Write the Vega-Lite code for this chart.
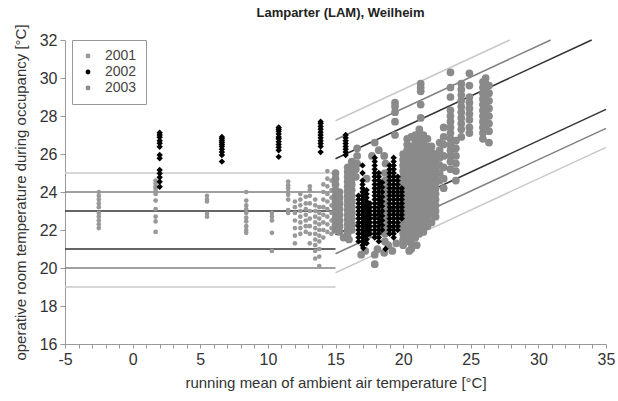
{
"$schema":"https://vega.github.io/schema/vega-lite/v6.json",
"width":541,"height":304,
"autosize":{"type":"none"},
"padding":{"left":65,"top":40,"right":12,"bottom":57},
"title":{"text":"Lamparter (LAM), Weilheim","fontSize":13,"fontWeight":"bold","color":"#222","offset":4,"dx":5},
"config":{"font":"Liberation Sans","view":{"stroke":null},
"axis":{"grid":false,"domainColor":"#999","tickColor":"#999","labelColor":"#333","titleColor":"#333","labelFontSize":16,"titleFontSize":15,"titleFontWeight":"normal","labelFlush":false,"labelOverlap":false},
"legend":{"orient":"none","legendX":7,"legendY":0,"strokeColor":"#999","fillColor":"white","padding":9,"labelFontSize":14,"labelColor":"#444","rowPadding":2,"labelOffset":10,"symbolSize":24}},
"encoding":{
"x":{"field":"x","type":"quantitative","scale":{"domain":[-5,35],"nice":false,"zero":false},
"axis":{"title":"running mean of ambient air temperature [°C]","values":[-5,-4,-3,-2,-1,0,1,2,3,4,5,6,7,8,9,10,11,12,13,14,15,16,17,18,19,20,21,22,23,24,25,26,27,28,29,30,31,32,33,34,35],"labelExpr":"datum.value % 5 === 0 ? '' + datum.value : ''","tickSize":4,"labelPadding":3,"titlePadding":8}},
"y":{"field":"y","type":"quantitative","scale":{"domain":[16,32],"nice":false,"zero":false},
"axis":{"title":"operative room temperature during occupancy [°C]","values":[16,18,20,22,24,26,28,30,32],"tickSize":5,"labelPadding":3,"titlePadding":11}}
},
"layer":[
{"data":{"values":[
{"seg":"Iu_h","band":"I","x":-5,"y":23},{"seg":"Iu_h","band":"I","x":15,"y":23},
{"seg":"Iu_s","band":"I","x":15,"y":25.75},{"seg":"Iu_s","band":"I","x":33.94,"y":32},
{"seg":"IIu_h","band":"II","x":-5,"y":24},{"seg":"IIu_h","band":"II","x":15,"y":24},
{"seg":"IIu_s","band":"II","x":15,"y":26.75},{"seg":"IIu_s","band":"II","x":30.91,"y":32},
{"seg":"IIIu_h","band":"III","x":-5,"y":25},{"seg":"IIIu_h","band":"III","x":15,"y":25},
{"seg":"IIIu_s","band":"III","x":15,"y":27.75},{"seg":"IIIu_s","band":"III","x":27.88,"y":32},
{"seg":"Il_h","band":"I","x":-5,"y":21},{"seg":"Il_h","band":"I","x":15,"y":21},
{"seg":"Il_s","band":"I","x":15,"y":21.75},{"seg":"Il_s","band":"I","x":35,"y":28.35},
{"seg":"IIl_h","band":"II","x":-5,"y":20},{"seg":"IIl_h","band":"II","x":15,"y":20},
{"seg":"IIl_s","band":"II","x":15,"y":20.75},{"seg":"IIl_s","band":"II","x":35,"y":27.35},
{"seg":"IIIl_h","band":"III","x":-5,"y":19},{"seg":"IIIl_h","band":"III","x":15,"y":19},
{"seg":"IIIl_s","band":"III","x":15,"y":19.75},{"seg":"IIIl_s","band":"III","x":35,"y":26.35}
]},
"mark":{"type":"line","strokeWidth":1.5},
"encoding":{"detail":{"field":"seg"},"color":{"field":"band","type":"nominal","scale":{"domain":["I","II","III"],"range":["#333333","#808080","#c8c8c8"]},"legend":null}}},
{"data":{"values":[
{"g":"2001","x":-2.5,"y":24.0},{"g":"2001","x":-2.5,"y":23.8},{"g":"2001","x":-2.5,"y":23.6},{"g":"2001","x":-2.5,"y":23.4},{"g":"2001","x":-2.5,"y":23.2},{"g":"2001","x":-2.5,"y":22.9},{"g":"2001","x":-2.5,"y":22.7},{"g":"2001","x":-2.5,"y":22.5},{"g":"2001","x":-2.5,"y":22.3},{"g":"2001","x":-2.5,"y":22.1},
{"g":"2001","x":1.7,"y":24.6},{"g":"2001","x":1.7,"y":24.45},{"g":"2001","x":1.7,"y":24.3},{"g":"2001","x":1.7,"y":24.2},{"g":"2001","x":1.7,"y":24.05},{"g":"2001","x":1.7,"y":23.9},{"g":"2001","x":1.7,"y":23.55},{"g":"2001","x":1.7,"y":23.1},{"g":"2001","x":1.7,"y":22.7},{"g":"2001","x":1.7,"y":22.45},{"g":"2001","x":1.7,"y":21.9},
{"g":"2001","x":5.5,"y":23.8},{"g":"2001","x":5.5,"y":23.6},{"g":"2001","x":5.5,"y":23.5},{"g":"2001","x":5.5,"y":22.85},{"g":"2001","x":5.5,"y":22.7},
{"g":"2001","x":8.4,"y":24.0},{"g":"2001","x":8.4,"y":23.55},{"g":"2001","x":8.4,"y":23.3},{"g":"2001","x":8.4,"y":23.1},{"g":"2001","x":8.4,"y":22.9},{"g":"2001","x":8.4,"y":22.65},{"g":"2001","x":8.4,"y":22.45},{"g":"2001","x":8.4,"y":22.2},{"g":"2001","x":8.4,"y":22.0},{"g":"2001","x":8.4,"y":21.85},
{"g":"2001","x":10.3,"y":22.9},{"g":"2001","x":10.3,"y":22.7},{"g":"2001","x":10.3,"y":22.5},{"g":"2001","x":10.3,"y":21.85},{"g":"2001","x":10.3,"y":20.9},
{"g":"2001","x":11.5,"y":24.55},{"g":"2001","x":11.5,"y":24.35},{"g":"2001","x":11.5,"y":24.2},{"g":"2001","x":11.5,"y":24.0},{"g":"2001","x":11.5,"y":23.85},{"g":"2001","x":11.5,"y":23.6},{"g":"2001","x":11.5,"y":23.05},{"g":"2001","x":11.5,"y":22.9},
{"g":"2001","x":12.0,"y":21.3},{"g":"2001","x":12.0,"y":21.7},{"g":"2001","x":12.0,"y":22.1},{"g":"2001","x":12.0,"y":22.5},{"g":"2001","x":12.0,"y":22.9},{"g":"2001","x":12.0,"y":23.2},{"g":"2001","x":12.0,"y":23.5},
{"g":"2001","x":12.4,"y":21.8},{"g":"2001","x":12.4,"y":22.1},{"g":"2001","x":12.4,"y":22.4},{"g":"2001","x":12.4,"y":22.7},{"g":"2001","x":12.4,"y":23.0},{"g":"2001","x":12.4,"y":23.3},{"g":"2001","x":12.4,"y":23.6},{"g":"2001","x":12.4,"y":23.9},
{"g":"2001","x":12.8,"y":21.9},{"g":"2001","x":12.8,"y":22.2},{"g":"2001","x":12.8,"y":22.5},{"g":"2001","x":12.8,"y":22.8},{"g":"2001","x":12.8,"y":23.1},{"g":"2001","x":12.8,"y":23.4},{"g":"2001","x":12.8,"y":23.75},
{"g":"2001","x":13.1,"y":21.3},{"g":"2001","x":13.1,"y":21.8},{"g":"2001","x":13.1,"y":22.2},{"g":"2001","x":13.1,"y":22.6},{"g":"2001","x":13.1,"y":23.0},{"g":"2001","x":13.1,"y":23.4},{"g":"2001","x":13.1,"y":23.8},{"g":"2001","x":13.1,"y":24.1},{"g":"2001","x":13.1,"y":24.3},
{"g":"2001","x":13.5,"y":20.5},{"g":"2001","x":13.5,"y":20.9},{"g":"2001","x":13.5,"y":21.2},{"g":"2001","x":13.5,"y":21.5},{"g":"2001","x":13.5,"y":21.8},{"g":"2001","x":13.5,"y":22.1},{"g":"2001","x":13.5,"y":22.4},{"g":"2001","x":13.5,"y":22.7},{"g":"2001","x":13.5,"y":23.0},{"g":"2001","x":13.5,"y":23.3},{"g":"2001","x":13.5,"y":23.6},
{"g":"2001","x":13.8,"y":20.1},{"g":"2001","x":13.8,"y":20.6},{"g":"2001","x":13.8,"y":21.0},{"g":"2001","x":13.8,"y":21.4},{"g":"2001","x":13.8,"y":21.7},{"g":"2001","x":13.8,"y":22.0},{"g":"2001","x":13.8,"y":22.3},{"g":"2001","x":13.8,"y":22.6},{"g":"2001","x":13.8,"y":22.9},{"g":"2001","x":13.8,"y":23.2},
{"g":"2001","x":14.1,"y":21.6},{"g":"2001","x":14.1,"y":22.0},{"g":"2001","x":14.1,"y":22.4},{"g":"2001","x":14.1,"y":22.8},{"g":"2001","x":14.1,"y":23.2},{"g":"2001","x":14.1,"y":23.6},{"g":"2001","x":14.1,"y":24.0},{"g":"2001","x":14.1,"y":24.4},
{"g":"2001","x":14.4,"y":21.9},{"g":"2001","x":14.4,"y":22.3},{"g":"2001","x":14.4,"y":22.7},{"g":"2001","x":14.4,"y":23.1},{"g":"2001","x":14.4,"y":23.5},{"g":"2001","x":14.4,"y":23.9},{"g":"2001","x":14.4,"y":24.3},{"g":"2001","x":14.4,"y":24.7},{"g":"2001","x":14.4,"y":25.1},
{"g":"2001","x":14.7,"y":21.8},{"g":"2001","x":14.7,"y":22.1},{"g":"2001","x":14.7,"y":22.5},{"g":"2001","x":14.7,"y":22.9},{"g":"2001","x":14.7,"y":23.3},{"g":"2001","x":14.7,"y":23.7},{"g":"2001","x":14.7,"y":24.1},{"g":"2001","x":14.7,"y":24.6},
{"g":"2003","x":15.0,"y":22.0},{"g":"2003","x":15.0,"y":22.3},{"g":"2003","x":15.0,"y":22.6},{"g":"2003","x":15.0,"y":22.9},{"g":"2003","x":15.0,"y":23.2},{"g":"2003","x":15.0,"y":23.5},{"g":"2003","x":15.0,"y":23.8},{"g":"2003","x":15.0,"y":24.1},{"g":"2003","x":15.0,"y":24.4},{"g":"2003","x":15.0,"y":24.7},{"g":"2003","x":15.0,"y":25.0},
{"g":"2003","x":15.3,"y":21.9},{"g":"2003","x":15.3,"y":22.2},{"g":"2003","x":15.3,"y":22.5},{"g":"2003","x":15.3,"y":22.8},{"g":"2003","x":15.3,"y":23.1},{"g":"2003","x":15.3,"y":23.4},{"g":"2003","x":15.3,"y":23.7},{"g":"2003","x":15.3,"y":24.0},
{"g":"2003","x":15.9,"y":21.8},{"g":"2003","x":15.9,"y":22.05},{"g":"2003","x":15.9,"y":22.3},{"g":"2003","x":15.9,"y":22.55},{"g":"2003","x":15.9,"y":22.8},{"g":"2003","x":15.9,"y":23.05},{"g":"2003","x":15.9,"y":23.3},{"g":"2003","x":15.9,"y":23.55},{"g":"2003","x":15.9,"y":23.8},{"g":"2003","x":15.9,"y":24.05},{"g":"2003","x":15.9,"y":24.3},{"g":"2003","x":15.9,"y":24.55},{"g":"2003","x":15.9,"y":24.8},{"g":"2003","x":15.9,"y":25.05},{"g":"2003","x":15.9,"y":25.3},
{"g":"2003","x":16.2,"y":22.0},{"g":"2003","x":16.2,"y":22.3},{"g":"2003","x":16.2,"y":22.6},{"g":"2003","x":16.2,"y":22.9},{"g":"2003","x":16.2,"y":23.2},{"g":"2003","x":16.2,"y":23.5},{"g":"2003","x":16.2,"y":23.8},{"g":"2003","x":16.2,"y":24.1},{"g":"2003","x":16.2,"y":24.4},{"g":"2003","x":16.2,"y":24.7},{"g":"2003","x":16.2,"y":25.0},{"g":"2003","x":16.2,"y":25.3},{"g":"2003","x":16.2,"y":25.6},
{"g":"2003","x":16.5,"y":24.8},{"g":"2003","x":16.5,"y":25.2},{"g":"2003","x":17.3,"y":24.7},{"g":"2003","x":17.2,"y":20.9},{"g":"2003","x":16.9,"y":20.7},{"g":"2003","x":15.6,"y":21.6},{"g":"2003","x":16.0,"y":21.5},
{"g":"2003","x":16.6,"y":26.3},{"g":"2003","x":16.6,"y":25.9},{"g":"2003","x":16.6,"y":25.5},
{"g":"2003","x":17.9,"y":20.7},{"g":"2003","x":17.9,"y":20.2},{"g":"2003","x":18.1,"y":21.0},{"g":"2003","x":18.6,"y":20.8},{"g":"2003","x":18.9,"y":21.2},{"g":"2003","x":19.2,"y":20.9},{"g":"2003","x":19.5,"y":21.3},
{"g":"2003","x":17.9,"y":26.6},{"g":"2003","x":18.2,"y":26.2},{"g":"2003","x":18.6,"y":25.9},{"g":"2003","x":18.7,"y":25.5},{"g":"2003","x":17.7,"y":25.9},
{"g":"2003","x":18.65,"y":21.4},{"g":"2003","x":18.65,"y":21.8},{"g":"2003","x":18.65,"y":22.2},{"g":"2003","x":18.65,"y":22.6},{"g":"2003","x":18.65,"y":23.0},{"g":"2003","x":18.65,"y":23.4},{"g":"2003","x":18.65,"y":23.8},{"g":"2003","x":18.65,"y":24.2},{"g":"2003","x":18.65,"y":24.6},{"g":"2003","x":18.65,"y":25.0},
{"g":"2003","x":20.0,"y":21.2},{"g":"2003","x":20.0,"y":21.5},{"g":"2003","x":20.0,"y":21.8},{"g":"2003","x":20.0,"y":22.1},{"g":"2003","x":20.0,"y":22.4},{"g":"2003","x":20.0,"y":22.7},{"g":"2003","x":20.0,"y":23.0},{"g":"2003","x":20.0,"y":23.3},{"g":"2003","x":20.0,"y":23.6},{"g":"2003","x":20.0,"y":23.9},{"g":"2003","x":20.0,"y":24.2},{"g":"2003","x":20.0,"y":24.5},{"g":"2003","x":20.0,"y":24.8},{"g":"2003","x":20.0,"y":25.1},{"g":"2003","x":20.0,"y":25.4},{"g":"2003","x":20.0,"y":25.7},{"g":"2003","x":20.0,"y":26.0},
{"g":"2003","x":20.3,"y":21.4},{"g":"2003","x":20.3,"y":21.7},{"g":"2003","x":20.3,"y":22.0},{"g":"2003","x":20.3,"y":22.3},{"g":"2003","x":20.3,"y":22.6},{"g":"2003","x":20.3,"y":22.9},{"g":"2003","x":20.3,"y":23.2},{"g":"2003","x":20.3,"y":23.5},{"g":"2003","x":20.3,"y":23.8},{"g":"2003","x":20.3,"y":24.1},{"g":"2003","x":20.3,"y":24.4},{"g":"2003","x":20.3,"y":24.7},{"g":"2003","x":20.3,"y":25.0},{"g":"2003","x":20.3,"y":25.3},{"g":"2003","x":20.3,"y":25.6},{"g":"2003","x":20.3,"y":25.9},{"g":"2003","x":20.3,"y":26.2},{"g":"2003","x":20.3,"y":26.5},{"g":"2003","x":20.3,"y":26.8},
{"g":"2003","x":20.6,"y":21.0},{"g":"2003","x":20.6,"y":21.3},{"g":"2003","x":20.6,"y":21.6},{"g":"2003","x":20.6,"y":21.9},{"g":"2003","x":20.6,"y":22.2},{"g":"2003","x":20.6,"y":22.5},{"g":"2003","x":20.6,"y":22.8},{"g":"2003","x":20.6,"y":23.1},{"g":"2003","x":20.6,"y":23.4},{"g":"2003","x":20.6,"y":23.7},{"g":"2003","x":20.6,"y":24.0},{"g":"2003","x":20.6,"y":24.3},{"g":"2003","x":20.6,"y":24.6},{"g":"2003","x":20.6,"y":24.9},{"g":"2003","x":20.6,"y":25.2},{"g":"2003","x":20.6,"y":25.5},{"g":"2003","x":20.6,"y":25.8},{"g":"2003","x":20.6,"y":26.1},{"g":"2003","x":20.6,"y":26.4},{"g":"2003","x":20.6,"y":26.9},
{"g":"2003","x":20.9,"y":21.6},{"g":"2003","x":20.9,"y":21.9},{"g":"2003","x":20.9,"y":22.2},{"g":"2003","x":20.9,"y":22.5},{"g":"2003","x":20.9,"y":22.8},{"g":"2003","x":20.9,"y":23.1},{"g":"2003","x":20.9,"y":23.4},{"g":"2003","x":20.9,"y":23.7},{"g":"2003","x":20.9,"y":24.0},{"g":"2003","x":20.9,"y":24.3},{"g":"2003","x":20.9,"y":24.6},{"g":"2003","x":20.9,"y":24.9},{"g":"2003","x":20.9,"y":25.2},{"g":"2003","x":20.9,"y":25.5},{"g":"2003","x":20.9,"y":25.8},{"g":"2003","x":20.9,"y":26.1},{"g":"2003","x":20.9,"y":26.4},{"g":"2003","x":20.9,"y":26.7},{"g":"2003","x":20.9,"y":27.0},
{"g":"2003","x":21.2,"y":21.8},{"g":"2003","x":21.2,"y":22.1},{"g":"2003","x":21.2,"y":22.4},{"g":"2003","x":21.2,"y":22.7},{"g":"2003","x":21.2,"y":23.0},{"g":"2003","x":21.2,"y":23.3},{"g":"2003","x":21.2,"y":23.6},{"g":"2003","x":21.2,"y":23.9},{"g":"2003","x":21.2,"y":24.2},{"g":"2003","x":21.2,"y":24.5},{"g":"2003","x":21.2,"y":24.8},{"g":"2003","x":21.2,"y":25.1},{"g":"2003","x":21.2,"y":25.4},{"g":"2003","x":21.2,"y":25.7},{"g":"2003","x":21.2,"y":26.0},{"g":"2003","x":21.2,"y":26.3},{"g":"2003","x":21.2,"y":26.6},{"g":"2003","x":21.2,"y":26.9},{"g":"2003","x":21.2,"y":27.3},
{"g":"2003","x":21.5,"y":21.9},{"g":"2003","x":21.5,"y":22.2},{"g":"2003","x":21.5,"y":22.5},{"g":"2003","x":21.5,"y":22.8},{"g":"2003","x":21.5,"y":23.1},{"g":"2003","x":21.5,"y":23.4},{"g":"2003","x":21.5,"y":23.7},{"g":"2003","x":21.5,"y":24.0},{"g":"2003","x":21.5,"y":24.3},{"g":"2003","x":21.5,"y":24.6},{"g":"2003","x":21.5,"y":24.9},{"g":"2003","x":21.5,"y":25.2},{"g":"2003","x":21.5,"y":25.5},{"g":"2003","x":21.5,"y":25.8},{"g":"2003","x":21.5,"y":26.1},{"g":"2003","x":21.5,"y":26.4},{"g":"2003","x":21.5,"y":26.7},{"g":"2003","x":21.5,"y":27.0},
{"g":"2003","x":21.8,"y":22.2},{"g":"2003","x":21.8,"y":22.5},{"g":"2003","x":21.8,"y":22.8},{"g":"2003","x":21.8,"y":23.1},{"g":"2003","x":21.8,"y":23.4},{"g":"2003","x":21.8,"y":23.7},{"g":"2003","x":21.8,"y":24.0},{"g":"2003","x":21.8,"y":24.3},{"g":"2003","x":21.8,"y":24.6},{"g":"2003","x":21.8,"y":24.9},{"g":"2003","x":21.8,"y":25.2},{"g":"2003","x":21.8,"y":25.5},{"g":"2003","x":21.8,"y":25.8},{"g":"2003","x":21.8,"y":26.1},{"g":"2003","x":21.8,"y":26.4},{"g":"2003","x":21.8,"y":26.8},
{"g":"2003","x":22.1,"y":22.4},{"g":"2003","x":22.1,"y":22.8},{"g":"2003","x":22.1,"y":23.1},{"g":"2003","x":22.1,"y":23.4},{"g":"2003","x":22.1,"y":23.7},{"g":"2003","x":22.1,"y":24.0},{"g":"2003","x":22.1,"y":24.3},{"g":"2003","x":22.1,"y":24.6},{"g":"2003","x":22.1,"y":24.9},{"g":"2003","x":22.1,"y":25.2},{"g":"2003","x":22.1,"y":25.5},{"g":"2003","x":22.1,"y":25.8},{"g":"2003","x":22.1,"y":26.1},{"g":"2003","x":22.1,"y":26.4},
{"g":"2003","x":22.4,"y":22.7},{"g":"2003","x":22.4,"y":23.0},{"g":"2003","x":22.4,"y":23.3},{"g":"2003","x":22.4,"y":23.6},{"g":"2003","x":22.4,"y":23.9},{"g":"2003","x":22.4,"y":24.2},{"g":"2003","x":22.4,"y":24.5},{"g":"2003","x":22.4,"y":24.8},{"g":"2003","x":22.4,"y":25.1},{"g":"2003","x":22.4,"y":25.4},{"g":"2003","x":22.4,"y":25.7},{"g":"2003","x":22.4,"y":26.0},
{"g":"2003","x":20.45,"y":20.9},{"g":"2003","x":21.0,"y":21.2},
{"g":"2003","x":19.4,"y":28.7},{"g":"2003","x":19.4,"y":28.5},{"g":"2003","x":19.4,"y":28.2},{"g":"2003","x":19.4,"y":27.7},{"g":"2003","x":19.4,"y":27.0},
{"g":"2003","x":21.3,"y":29.7},{"g":"2003","x":21.3,"y":29.5},{"g":"2003","x":21.3,"y":29.3},{"g":"2003","x":21.3,"y":28.6},{"g":"2003","x":21.3,"y":27.9},
{"g":"2003","x":22.7,"y":26.6},{"g":"2003","x":22.7,"y":26.2},{"g":"2003","x":22.7,"y":25.8},{"g":"2003","x":22.7,"y":25.4},{"g":"2003","x":22.7,"y":25.0},{"g":"2003","x":22.7,"y":24.6},
{"g":"2003","x":23.0,"y":27.4},{"g":"2003","x":23.0,"y":26.9},{"g":"2003","x":23.0,"y":26.5},{"g":"2003","x":23.0,"y":25.9},{"g":"2003","x":23.0,"y":25.3},{"g":"2003","x":23.0,"y":24.7},{"g":"2003","x":23.0,"y":24.2},
{"g":"2003","x":23.5,"y":30.3},{"g":"2003","x":23.5,"y":29.5},{"g":"2003","x":23.5,"y":29.0},{"g":"2003","x":23.5,"y":28.3},{"g":"2003","x":23.5,"y":28.0},{"g":"2003","x":23.5,"y":27.7},{"g":"2003","x":23.5,"y":27.4},{"g":"2003","x":23.5,"y":27.1},{"g":"2003","x":23.5,"y":26.8},{"g":"2003","x":23.5,"y":26.5},{"g":"2003","x":23.5,"y":26.2},{"g":"2003","x":23.5,"y":25.9},{"g":"2003","x":23.5,"y":25.6},{"g":"2003","x":23.5,"y":25.2},
{"g":"2003","x":23.9,"y":26.7},{"g":"2003","x":23.9,"y":26.3},{"g":"2003","x":23.9,"y":25.9},{"g":"2003","x":23.9,"y":25.5},{"g":"2003","x":23.9,"y":25.1},{"g":"2003","x":23.9,"y":24.6},
{"g":"2003","x":24.3,"y":29.7},{"g":"2003","x":24.3,"y":29.4},{"g":"2003","x":24.3,"y":29.1},{"g":"2003","x":24.3,"y":28.8},{"g":"2003","x":24.3,"y":28.5},{"g":"2003","x":24.3,"y":28.2},{"g":"2003","x":24.3,"y":27.9},{"g":"2003","x":24.3,"y":27.6},{"g":"2003","x":24.3,"y":27.3},{"g":"2003","x":24.3,"y":26.9},
{"g":"2003","x":24.9,"y":30.25},{"g":"2003","x":24.9,"y":29.6},{"g":"2003","x":24.9,"y":29.0},{"g":"2003","x":24.9,"y":28.7},{"g":"2003","x":24.9,"y":28.4},{"g":"2003","x":24.9,"y":28.1},{"g":"2003","x":24.9,"y":27.8},{"g":"2003","x":24.9,"y":27.4},{"g":"2003","x":24.9,"y":27.1},
{"g":"2003","x":25.9,"y":29.8},{"g":"2003","x":25.9,"y":29.5},{"g":"2003","x":25.9,"y":29.2},{"g":"2003","x":25.9,"y":28.9},{"g":"2003","x":25.9,"y":28.6},{"g":"2003","x":25.9,"y":28.3},{"g":"2003","x":25.9,"y":28.0},{"g":"2003","x":25.9,"y":27.7},{"g":"2003","x":25.9,"y":27.4},{"g":"2003","x":25.9,"y":27.1},{"g":"2003","x":25.9,"y":26.8},
{"g":"2003","x":26.1,"y":30.0},{"g":"2003","x":26.1,"y":29.7},{"g":"2003","x":26.1,"y":29.4},{"g":"2003","x":26.1,"y":29.1},{"g":"2003","x":26.1,"y":28.8},{"g":"2003","x":26.1,"y":28.5},{"g":"2003","x":26.1,"y":28.2},{"g":"2003","x":26.1,"y":27.9},{"g":"2003","x":26.1,"y":27.6},{"g":"2003","x":26.1,"y":27.3},
{"g":"2003","x":26.35,"y":29.6},{"g":"2003","x":26.35,"y":29.2},{"g":"2003","x":26.35,"y":28.8},{"g":"2003","x":26.35,"y":28.4},{"g":"2003","x":26.35,"y":28.0},{"g":"2003","x":26.35,"y":27.6},{"g":"2003","x":26.35,"y":27.2},{"g":"2003","x":26.35,"y":26.6},
{"g":"2002","x":2.0,"y":27.12},{"g":"2002","x":2.0,"y":27.0},{"g":"2002","x":2.0,"y":26.88},{"g":"2002","x":2.0,"y":26.7},{"g":"2002","x":2.0,"y":26.56},{"g":"2002","x":2.0,"y":26.38},{"g":"2002","x":2.0,"y":25.95},{"g":"2002","x":2.0,"y":25.77},{"g":"2002","x":2.0,"y":25.16},{"g":"2002","x":2.0,"y":24.98},{"g":"2002","x":2.0,"y":24.77},{"g":"2002","x":2.0,"y":24.54},{"g":"2002","x":2.0,"y":24.28},
{"g":"2002","x":6.6,"y":26.9},{"g":"2002","x":6.6,"y":26.8},{"g":"2002","x":6.6,"y":26.7},{"g":"2002","x":6.6,"y":26.6},{"g":"2002","x":6.6,"y":26.5},{"g":"2002","x":6.6,"y":26.4},{"g":"2002","x":6.6,"y":26.25},{"g":"2002","x":6.6,"y":26.1},{"g":"2002","x":6.6,"y":25.95},{"g":"2002","x":6.6,"y":25.6},
{"g":"2002","x":10.8,"y":27.4},{"g":"2002","x":10.8,"y":27.3},{"g":"2002","x":10.8,"y":27.2},{"g":"2002","x":10.8,"y":27.05},{"g":"2002","x":10.8,"y":26.9},{"g":"2002","x":10.8,"y":26.8},{"g":"2002","x":10.8,"y":26.65},{"g":"2002","x":10.8,"y":26.5},{"g":"2002","x":10.8,"y":26.35},{"g":"2002","x":10.8,"y":26.2},{"g":"2002","x":10.8,"y":25.85},
{"g":"2002","x":13.9,"y":27.7},{"g":"2002","x":13.9,"y":27.6},{"g":"2002","x":13.9,"y":27.45},{"g":"2002","x":13.9,"y":27.3},{"g":"2002","x":13.9,"y":27.15},{"g":"2002","x":13.9,"y":27.0},{"g":"2002","x":13.9,"y":26.85},{"g":"2002","x":13.9,"y":26.7},{"g":"2002","x":13.9,"y":26.55},{"g":"2002","x":13.9,"y":26.4},{"g":"2002","x":13.9,"y":26.1},
{"g":"2002","x":15.75,"y":27.0},{"g":"2002","x":15.75,"y":26.85},{"g":"2002","x":15.75,"y":26.7},{"g":"2002","x":15.75,"y":26.55},{"g":"2002","x":15.75,"y":26.4},{"g":"2002","x":15.75,"y":26.25},{"g":"2002","x":15.75,"y":26.1},{"g":"2002","x":15.75,"y":25.95},
{"g":"2002","x":16.7,"y":21.4},{"g":"2002","x":16.7,"y":21.6},{"g":"2002","x":16.7,"y":21.8},{"g":"2002","x":16.7,"y":22.0},{"g":"2002","x":16.7,"y":22.2},{"g":"2002","x":16.7,"y":22.4},{"g":"2002","x":16.7,"y":22.6},{"g":"2002","x":16.7,"y":22.8},{"g":"2002","x":16.7,"y":23.0},{"g":"2002","x":16.7,"y":23.2},{"g":"2002","x":16.7,"y":23.4},{"g":"2002","x":16.7,"y":23.6},{"g":"2002","x":16.7,"y":23.8},
{"g":"2002","x":17.0,"y":21.2},{"g":"2002","x":17.0,"y":21.4},{"g":"2002","x":17.0,"y":21.6},{"g":"2002","x":17.0,"y":21.8},{"g":"2002","x":17.0,"y":22.0},{"g":"2002","x":17.0,"y":22.2},{"g":"2002","x":17.0,"y":22.4},{"g":"2002","x":17.0,"y":22.6},{"g":"2002","x":17.0,"y":22.8},{"g":"2002","x":17.0,"y":23.0},{"g":"2002","x":17.0,"y":23.2},{"g":"2002","x":17.0,"y":23.4},{"g":"2002","x":17.0,"y":23.6},{"g":"2002","x":17.0,"y":23.8},{"g":"2002","x":17.0,"y":24.0},{"g":"2002","x":17.0,"y":24.2},{"g":"2002","x":17.0,"y":24.4},{"g":"2002","x":17.0,"y":24.6},{"g":"2002","x":17.0,"y":25.0},{"g":"2002","x":17.0,"y":25.4},
{"g":"2002","x":17.3,"y":21.3},{"g":"2002","x":17.3,"y":21.5},{"g":"2002","x":17.3,"y":21.7},{"g":"2002","x":17.3,"y":21.9},{"g":"2002","x":17.3,"y":22.1},{"g":"2002","x":17.3,"y":22.3},{"g":"2002","x":17.3,"y":22.5},{"g":"2002","x":17.3,"y":22.7},{"g":"2002","x":17.3,"y":22.9},{"g":"2002","x":17.3,"y":23.1},{"g":"2002","x":17.3,"y":23.3},{"g":"2002","x":17.3,"y":23.5},{"g":"2002","x":17.3,"y":23.7},{"g":"2002","x":17.3,"y":23.9},{"g":"2002","x":17.3,"y":24.1},
{"g":"2002","x":17.55,"y":21.8},{"g":"2002","x":17.55,"y":22.0},{"g":"2002","x":17.55,"y":22.2},{"g":"2002","x":17.55,"y":22.4},{"g":"2002","x":17.55,"y":22.6},{"g":"2002","x":17.55,"y":22.8},{"g":"2002","x":17.55,"y":23.0},{"g":"2002","x":17.55,"y":23.2},{"g":"2002","x":17.55,"y":23.4},
{"g":"2002","x":17.05,"y":21.05},
{"g":"2002","x":17.9,"y":21.6},{"g":"2002","x":17.9,"y":21.8},{"g":"2002","x":17.9,"y":22.0},{"g":"2002","x":17.9,"y":22.2},{"g":"2002","x":17.9,"y":22.4},{"g":"2002","x":17.9,"y":22.6},{"g":"2002","x":17.9,"y":22.8},{"g":"2002","x":17.9,"y":23.0},{"g":"2002","x":17.9,"y":23.2},{"g":"2002","x":17.9,"y":23.4},{"g":"2002","x":17.9,"y":23.6},{"g":"2002","x":17.9,"y":23.8},{"g":"2002","x":17.9,"y":24.0},{"g":"2002","x":17.9,"y":24.2},{"g":"2002","x":17.9,"y":24.4},{"g":"2002","x":17.9,"y":24.6},{"g":"2002","x":17.9,"y":24.8},{"g":"2002","x":17.9,"y":25.0},{"g":"2002","x":17.9,"y":25.2},{"g":"2002","x":17.9,"y":25.4},{"g":"2002","x":17.9,"y":25.6},{"g":"2002","x":17.9,"y":25.8},
{"g":"2002","x":18.2,"y":21.4},{"g":"2002","x":18.2,"y":21.6},{"g":"2002","x":18.2,"y":21.8},{"g":"2002","x":18.2,"y":22.0},{"g":"2002","x":18.2,"y":22.2},{"g":"2002","x":18.2,"y":22.4},{"g":"2002","x":18.2,"y":22.6},{"g":"2002","x":18.2,"y":22.8},{"g":"2002","x":18.2,"y":23.0},{"g":"2002","x":18.2,"y":23.2},{"g":"2002","x":18.2,"y":23.4},{"g":"2002","x":18.2,"y":23.6},{"g":"2002","x":18.2,"y":23.8},{"g":"2002","x":18.2,"y":24.0},{"g":"2002","x":18.2,"y":24.2},{"g":"2002","x":18.2,"y":24.4},{"g":"2002","x":18.2,"y":24.6},{"g":"2002","x":18.2,"y":24.8},{"g":"2002","x":18.2,"y":25.0},
{"g":"2002","x":18.45,"y":22.0},{"g":"2002","x":18.45,"y":22.25},{"g":"2002","x":18.45,"y":22.5},{"g":"2002","x":18.45,"y":22.75},{"g":"2002","x":18.45,"y":23.0},{"g":"2002","x":18.45,"y":23.25},{"g":"2002","x":18.45,"y":23.5},{"g":"2002","x":18.45,"y":23.75},{"g":"2002","x":18.45,"y":24.0},{"g":"2002","x":18.45,"y":24.25},{"g":"2002","x":18.45,"y":24.5},
{"g":"2002","x":18.7,"y":21.0},
{"g":"2002","x":19.0,"y":21.8},{"g":"2002","x":19.0,"y":22.0},{"g":"2002","x":19.0,"y":22.2},{"g":"2002","x":19.0,"y":22.4},{"g":"2002","x":19.0,"y":22.6},{"g":"2002","x":19.0,"y":22.8},{"g":"2002","x":19.0,"y":23.0},{"g":"2002","x":19.0,"y":23.2},{"g":"2002","x":19.0,"y":23.4},{"g":"2002","x":19.0,"y":23.6},{"g":"2002","x":19.0,"y":23.8},{"g":"2002","x":19.0,"y":24.0},{"g":"2002","x":19.0,"y":24.2},{"g":"2002","x":19.0,"y":24.4},{"g":"2002","x":19.0,"y":24.6},{"g":"2002","x":19.0,"y":24.8},{"g":"2002","x":19.0,"y":25.0},{"g":"2002","x":19.0,"y":25.2},{"g":"2002","x":19.0,"y":25.4},
{"g":"2002","x":19.3,"y":21.6},{"g":"2002","x":19.3,"y":21.8},{"g":"2002","x":19.3,"y":22.0},{"g":"2002","x":19.3,"y":22.2},{"g":"2002","x":19.3,"y":22.4},{"g":"2002","x":19.3,"y":22.6},{"g":"2002","x":19.3,"y":22.8},{"g":"2002","x":19.3,"y":23.0},{"g":"2002","x":19.3,"y":23.2},{"g":"2002","x":19.3,"y":23.4},{"g":"2002","x":19.3,"y":23.6},{"g":"2002","x":19.3,"y":23.8},{"g":"2002","x":19.3,"y":24.0},{"g":"2002","x":19.3,"y":24.2},{"g":"2002","x":19.3,"y":24.4},{"g":"2002","x":19.3,"y":24.6},{"g":"2002","x":19.3,"y":24.8},{"g":"2002","x":19.3,"y":25.0},{"g":"2002","x":19.3,"y":25.2},{"g":"2002","x":19.3,"y":25.4},{"g":"2002","x":19.3,"y":25.6},{"g":"2002","x":19.3,"y":25.8},
{"g":"2002","x":19.6,"y":22.0},{"g":"2002","x":19.6,"y":22.2},{"g":"2002","x":19.6,"y":22.4},{"g":"2002","x":19.6,"y":22.6},{"g":"2002","x":19.6,"y":22.8},{"g":"2002","x":19.6,"y":23.0},{"g":"2002","x":19.6,"y":23.2},{"g":"2002","x":19.6,"y":23.4},{"g":"2002","x":19.6,"y":23.6},{"g":"2002","x":19.6,"y":23.8},{"g":"2002","x":19.6,"y":24.0},{"g":"2002","x":19.6,"y":24.2},{"g":"2002","x":19.6,"y":24.4},{"g":"2002","x":19.6,"y":24.6},{"g":"2002","x":19.6,"y":24.8},
{"g":"2002","x":19.9,"y":22.6},{"g":"2002","x":19.9,"y":22.8},{"g":"2002","x":19.9,"y":23.0},{"g":"2002","x":19.9,"y":23.2},{"g":"2002","x":19.9,"y":23.4},{"g":"2002","x":19.9,"y":23.6},{"g":"2002","x":19.9,"y":23.8},{"g":"2002","x":19.9,"y":24.0},{"g":"2002","x":19.9,"y":24.2}
]},
"mark":{"type":"point","filled":true,"opacity":1},
"encoding":{
"color":{"field":"g","type":"nominal","title":null,"scale":{"domain":["2001","2002","2003"],"range":["#999999","#000000","#8a8a8a"]}},
"shape":{"field":"g","type":"nominal","title":null,"scale":{"domain":["2001","2002","2003"],"range":["circle","diamond","circle"]}},
"size":{"field":"g","type":"nominal","title":null,"scale":{"domain":["2001","2002","2003"],"range":[22,60,26]},"legend":null}
}}
],
"resolve":{"scale":{"color":"independent"}}
}
